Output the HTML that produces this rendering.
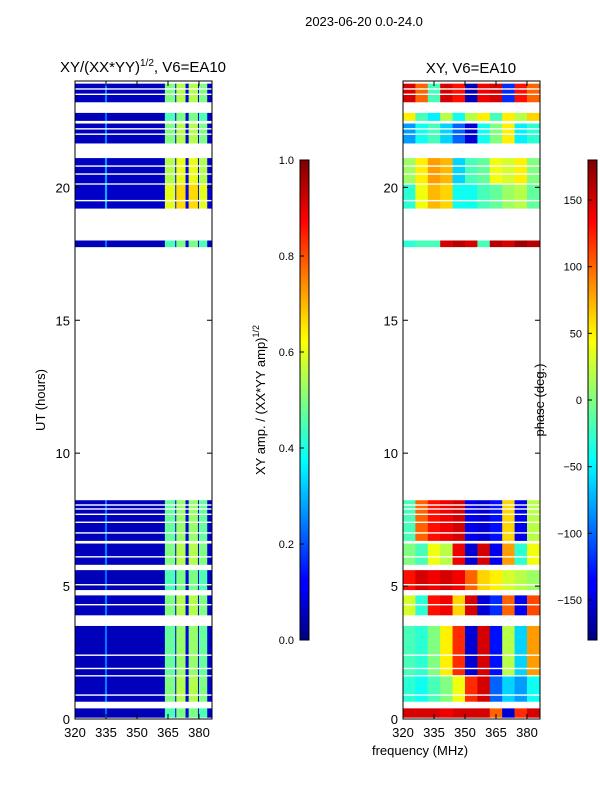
<!DOCTYPE html>
<html><head><meta charset="utf-8"><style>
body{margin:0;background:#fff;}
svg text{font-family:"Liberation Sans",sans-serif;fill:#000;}
</style></head><body>
<svg id="fig" width="600" height="800" xmlns="http://www.w3.org/2000/svg">
<defs>
<linearGradient id="jet" x1="0" y1="1" x2="0" y2="0">
<stop offset="0" stop-color="#00007f"/><stop offset="0.11" stop-color="#0000ff"/><stop offset="0.125" stop-color="#0000ff"/>
<stop offset="0.34" stop-color="#00e0ff"/><stop offset="0.375" stop-color="#00ffff"/><stop offset="0.5" stop-color="#7fff7f"/>
<stop offset="0.625" stop-color="#ffff00"/><stop offset="0.66" stop-color="#ffe000"/><stop offset="0.875" stop-color="#ff0000"/><stop offset="1" stop-color="#7f0000"/>
</linearGradient>
</defs>
<text x="364" y="26" font-size="13" text-anchor="middle">2023-06-20 0.0-24.0</text>
<text x="143" y="72" font-size="15" text-anchor="middle">XY/(XX*YY)<tspan font-size="10" dy="-6">1/2</tspan><tspan dy="6">, V6=EA10</tspan></text>
<text x="471" y="73" font-size="15" text-anchor="middle">XY, V6=EA10</text>
<g id="ampPlot"></g>
<g id="phPlot"></g>
<g id="axes"></g>
<text transform="translate(45,400) rotate(-90)" font-size="13" text-anchor="middle">UT (hours)</text>
<text x="420" y="755" font-size="13" text-anchor="middle">frequency (MHz)</text>
<rect x="300" y="160" width="9" height="480" fill="url(#jet)" stroke="#000" stroke-width="1"/>
<rect x="588" y="160" width="9" height="480" fill="url(#jet)" stroke="#000" stroke-width="1"/>
<text transform="translate(265,400) rotate(-90)" font-size="13" text-anchor="middle">XY amp. / (XX*YY amp)<tspan font-size="9" dy="-6">1/2</tspan></text>
<text transform="translate(544,400) rotate(-90)" font-size="13" text-anchor="middle">phase (deg.)</text>
<g id="cbticks"></g>
</svg>
<script>
// ---- data ----
const bandStart = [0.05,0.65,1.65,3.9,4.85,5.8,6.7,17.75,19.2,20.15,21.65,22.5,23.2];
const bandEnd   = [0.4,1.6,3.5,4.65,5.6,6.6,8.23,18.0,20.1,21.1,22.4,22.8,23.9];
const ampScale  = [0.9,1.0,0.95,1.0,0.9,1.0,0.95,0.9,1.2,1.1,1.0,0.9,1.0];
const ampSegStart = [320,334.5,335.5,363.5,368.5,369,373.5,375,379.5,380,384];
const ampSegEnd   = [334.5,335.5,363.5,368.5,369,373.5,375,379.5,380,384,386.3];
const ampSegVal   = [0.06,0.25,0.06,0.5,0.12,0.55,0.1,0.55,0.12,0.5,0.08];
const phaseBins = [320,326,332,338,344,350,356,362,368,374,380];
const phaseVals = [
 [150,150,150,140,150,150,150,100,-150,120,150],
 [-30,-40,-20,0,40,120,150,-100,-60,-80,-40],
 [-20,-30,0,50,120,-150,150,-130,20,-60,80],
 [30,-30,130,140,60,150,-150,-120,100,-140,110],
 [130,150,140,150,140,100,60,50,30,20,10],
 [0,-20,40,20,140,-150,150,-140,80,-30,40],
 [-20,100,130,140,150,-140,-150,-130,60,-140,20],
 [-30,-20,-20,150,160,150,-20,160,150,170,160],
 [-30,40,70,60,-40,-40,-20,-10,10,20,-10],
 [10,50,80,70,-60,-20,-10,40,30,50,0],
 [-80,-40,-20,-60,-100,-150,-40,0,50,-50,-30],
 [50,-20,-50,20,-40,20,50,-20,50,20,60],
 [150,100,-20,150,130,-160,140,150,-120,130,100]];
const gapLines = [0.9,1.9,2.4,4.3,5.05,6.1,7.0,7.4,7.7,7.9,8.05,19.5,20.5,20.8,22.0,22.2,23.5,23.7];
const yTicks = [0,5,10,15,20];
const xTicks = [320,335,350,365,380];
const ampTicks = [0.0,0.2,0.4,0.6,0.8,1.0];
const phTicks = [150,100,50,0,-50,-100,-150];
// ---- scales ----
const panels=[{x0:75,id:'ampPlot',n:'amp'},{x0:403,id:'phPlot',n:'phase'}];
const W=137, yTop=81, yBot=719, fMin=320, fMax=386.3;
const yS=h=>yBot-(h/24)*(yBot-yTop);
const xS=(x0,f)=>x0+(f-fMin)/(fMax-fMin)*W;
function jet(v){v=Math.max(0,Math.min(1,v));
 const r=Math.min(Math.max(Math.min(4*v-1.5,-4*v+4.5),0),1),g=Math.min(Math.max(Math.min(4*v-0.5,-4*v+3.5),0),1),b=Math.min(Math.max(Math.min(4*v+0.5,-4*v+2.5),0),1);
 return `rgb(${Math.round(r*255)},${Math.round(g*255)},${Math.round(b*255)})`;}
const NS='http://www.w3.org/2000/svg';
function mk(tag,attrs,parent){const e=document.createElementNS(NS,tag);for(const k in attrs)e.setAttribute(k,attrs[k]);parent.appendChild(e);return e;}
const amp=document.getElementById('ampPlot'), ph=document.getElementById('phPlot');
for(let i=0;i<bandStart.length;i++){
 const y1=yS(bandEnd[i]), y2=yS(bandStart[i]);
 for(let j=0;j<ampSegStart.length;j++){
  const r=mk('rect',{x:xS(75,ampSegStart[j]),y:y1,width:xS(75,ampSegEnd[j])-xS(75,ampSegStart[j])+0.3,height:y2-y1,fill:jet(ampSegVal[j]*ampScale[i])},amp);
  
  
 }
 for(let j=0;j<phaseBins.length;j++){
  const f2=j+1<phaseBins.length?phaseBins[j+1]:fMax;
  const r=mk('rect',{x:xS(403,phaseBins[j]),y:y1,width:xS(403,f2)-xS(403,phaseBins[j])+0.3,height:y2-y1,fill:jet((phaseVals[i][j]+180)/360)},ph);
  
  
 }
}
for(const p of panels){
 const g=document.getElementById(p.id);
 for(const h of gapLines){const l=mk('rect',{x:p.x0,y:yS(h)-0.7,width:W,height:1.4,fill:'#fff'},g);
  
  }
}
const ax=document.getElementById('axes');
for(const p of panels){
 const fr=mk('rect',{x:p.x0,y:yTop,width:W,height:yBot-yTop,fill:'none',stroke:'#000','stroke-width':1},ax);
 
 
 for(const t of yTicks){const y=yS(t);
  mk('line',{x1:p.x0,x2:p.x0+5,y1:y,y2:y,stroke:'#000'},ax);mk('line',{x1:p.x0+W-5,x2:p.x0+W,y1:y,y2:y,stroke:'#000'},ax);
  const tx=mk('text',{x:p.x0-5,y:y+5,'font-size':13,'text-anchor':'end'},ax);tx.textContent=t;
  
  }
 for(const t of xTicks){const x=xS(p.x0,t);
  mk('line',{x1:x,x2:x,y1:yBot,y2:yBot-5,stroke:'#000'},ax);mk('line',{x1:x,x2:x,y1:yTop,y2:yTop+5,stroke:'#000'},ax);
  const tx=mk('text',{x:x,y:737,'font-size':13,'text-anchor':'middle'},ax);tx.textContent=t;
  
  }
}
const cb=document.getElementById('cbticks');
for(const t of ampTicks){const y=640-t*480;
 mk('line',{x1:300,x2:304,y1:y,y2:y,stroke:'#000'},cb);
 const tx=mk('text',{x:294,y:y+4,'font-size':11,'text-anchor':'end'},cb);tx.textContent=t.toFixed(1);
 
 }
for(const t of phTicks){const y=400-t*480/360;
 mk('line',{x1:588,x2:592,y1:y,y2:y,stroke:'#000'},cb);
 const tx=mk('text',{x:582,y:y+4,'font-size':11,'text-anchor':'end'},cb);tx.textContent=t<0?'\u2212'+(-t):t;
 
 }
</script>
</body></html>
